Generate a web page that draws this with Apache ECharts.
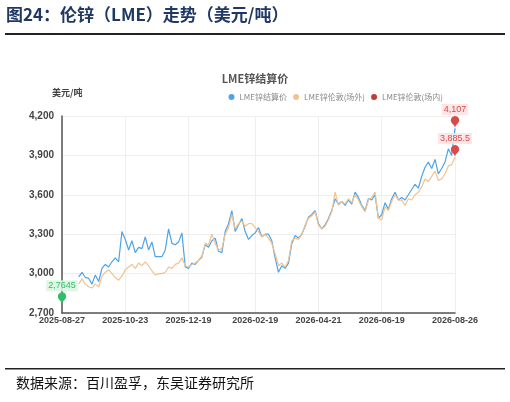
<!DOCTYPE html>
<html><head><meta charset="utf-8">
<script src="https://cdn.jsdelivr.net/npm/echarts@6/dist/echarts.min.js"></script>
<style>html,body{margin:0;padding:0;background:#fff}#c{width:510px;height:402px}</style>
</head><body><div id="c"></div>
<script>
var tickIdx = [0, 19, 38, 58, 77, 96, 118];
var tickLabels = ['2025-08-27','2025-10-23','2025-12-19','2026-02-19','2026-04-21','2026-06-19','2026-08-26'];
var blue = [null,null,null,null,null,
2975,3010,2970,2965,2920,2990,2940,3040,3070,3050,3090,3120,3090,3320,3260,3180,3250,3160,3200,3190,3280,3180,3240,3130,3130,3130,3180,3340,3230,3220,3240,3310,3050,3040,3080,3070,3100,3130,3220,3200,3250,3270,3170,3160,3320,3380,3480,3320,3370,3420,3320,3260,3290,3310,3350,3280,3300,3300,3250,3120,3010,3060,3040,3080,3230,3290,3270,3300,3360,3430,3450,3480,3380,3340,3370,3420,3480,3570,3530,3550,3520,3560,3530,3620,3580,3520,3480,3570,3560,3600,3420,3450,3540,3490,3570,3620,3560,3580,3560,3600,3640,3680,3650,3740,3810,3850,3800,3870,3760,3800,3850,3950,3900,4107];
var orange = [null,null,null,null,null,
2920,2960,2920,2900,2890,2920,2900,2980,3010,3030,3000,2970,2950,2980,3030,3050,3070,3040,3080,3060,3090,3060,3020,2990,3000,3000,3010,3050,3040,3070,3080,3120,3060,3050,3070,3080,3100,3120,3230,3220,3300,3230,3180,3190,3300,3350,3450,3340,3380,3400,3360,3380,3380,3350,3320,3280,3300,3270,3230,3150,3060,3080,3050,3100,3250,3270,3260,3300,3370,3420,3440,3470,3370,3340,3360,3410,3470,3620,3520,3550,3530,3570,3540,3600,3560,3510,3470,3560,3580,3620,3420,3410,3510,3480,3550,3600,3560,3560,3520,3570,3560,3600,3620,3660,3720,3700,3740,3780,3710,3720,3760,3820,3830,3885.5];
var red = [2764.5];
var cats = blue.map(function(v,i){var k=tickIdx.indexOf(i);return k>=0?tickLabels[k]:String(i);});
var chart = echarts.init(document.getElementById('c'));
var pinLabel = function(c){return {show:true,position:'top',distance:2,color:c,fontSize:10,backgroundColor:'rgba(255,230,230,0.8)',padding:[2,3],formatter:function(p){return echarts.format.addCommas(p.value);}};};
chart.setOption({
  animation:false,
  title:{text:'LME锌结算价',left:'center',top:68,textStyle:{fontSize:11,fontWeight:'bold',color:'#555',fontFamily:'Noto Sans CJK SC'}},
  legend:{right:62,top:88,itemWidth:6,itemHeight:6,icon:'circle',itemGap:6,textStyle:{fontSize:8,color:'#888',fontFamily:'Noto Sans CJK SC'},
    data:['LME锌结算价','LME锌伦敦(场外)','LME锌伦敦(场内)']},
  graphic:[
    {type:'text',left:6,top:6,style:{text:'图24：伦锌（LME）走势（美元/吨）',fontSize:17,fontWeight:'bold',fill:'#1f3864',fontFamily:'Noto Sans CJK SC'}},
    {type:'rect',shape:{x:5,y:33,width:500,height:2},style:{fill:'#222'}},
    {type:'rect',shape:{x:5,y:368,width:500,height:1.5},style:{fill:'#222'}},
    {type:'text',left:16,top:376,style:{text:'数据来源：百川盈孚，东吴证券研究所',fontSize:14,fill:'#111',fontFamily:'Noto Sans CJK SC'}},
    {type:'text',left:52,top:88,style:{text:'美元/吨',fontSize:9,fontWeight:'bold',fill:'#444',fontFamily:'Noto Sans CJK SC'}}
  ],
  grid:{left:62,right:55,top:116,bottom:89},
  xAxis:{type:'category',data:cats,boundaryGap:false,
    axisLine:{lineStyle:{color:'#555',width:1.5}},axisTick:{show:false},
    axisLabel:{interval:function(i){return tickIdx.indexOf(i)>=0;},formatter:function(v){return tickLabels.indexOf(v)>=0?v:'';},
      fontSize:9,fontWeight:'bold',color:'#444',margin:3},
    splitLine:{show:true,interval:function(i){return tickIdx.indexOf(i)>=0;},lineStyle:{color:'#eee'}}},
  yAxis:{type:'value',min:2700,max:4200,interval:300,
    axisLine:{show:true,lineStyle:{color:'#555',width:1.5}},axisTick:{show:false},
    axisLabel:{fontSize:10,fontWeight:'bold',color:'#444',formatter:function(v){return echarts.format.addCommas(v);}},
    splitLine:{lineStyle:{color:'#eee'}}},
  series:[
    {name:'LME锌结算价',type:'line',data:blue,symbol:'none',lineStyle:{width:1.2,color:'#4da3e8'},itemStyle:{color:'#4da3e8'},
      markPoint:{symbol:'pin',symbolSize:14,itemStyle:{color:'#d94b4b'},label:{show:false},data:[{type:'max'}]}},
    {name:'LME锌伦敦(场外)',type:'line',data:orange,symbol:'none',lineStyle:{width:1.2,color:'#f2c28f'},itemStyle:{color:'#f2c28f'},
      markPoint:{symbol:'pin',symbolSize:14,itemStyle:{color:'#d94b4b'},label:{show:false},data:[{type:'max'}]}},
    {name:'LME锌伦敦(场内)',type:'line',data:red,symbol:'none',lineStyle:{width:1.2,color:'#c23a3a'},itemStyle:{color:'#c23a3a'},
      markPoint:{symbol:'pin',symbolSize:14,itemStyle:{color:'#2fbf6a'},label:{show:false},data:[{type:'min'}]}}
  ]
});
// value tags above pins
chart.setOption({series:[
  {markPoint:{label:{show:true,position:'top',distance:1,color:'#d94b4b',fontSize:9,backgroundColor:'rgba(255,225,225,0.85)',padding:[1,2],formatter:function(p){return echarts.format.addCommas(p.value);}}}},
  {markPoint:{label:{show:true,position:'top',distance:1,color:'#d94b4b',fontSize:9,backgroundColor:'rgba(255,225,225,0.85)',padding:[1,2],formatter:function(p){return echarts.format.addCommas(p.value);}}}},
  {markPoint:{label:{show:true,position:'top',distance:1,color:'#2fbf6a',fontSize:9,backgroundColor:'rgba(220,245,225,0.9)',padding:[1,2],formatter:function(){return '2,7645';}}}}
]});
</script></body></html>
